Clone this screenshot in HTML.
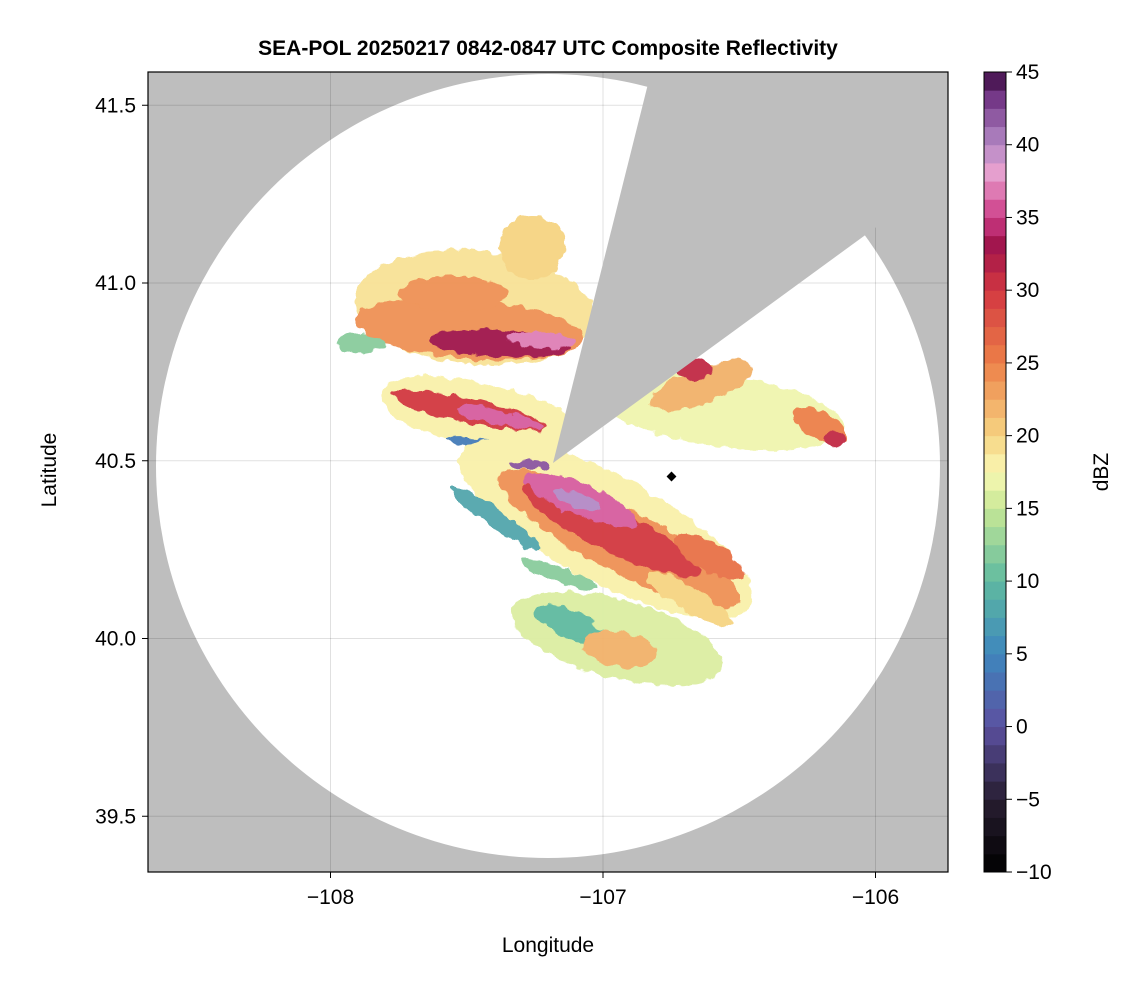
<!DOCTYPE html>
<html><head><meta charset="utf-8"><style>
body{margin:0;background:#fff;font-family:"Liberation Sans",sans-serif}
svg{display:block}
</style></head><body>
<svg id="chart" width="1146" height="990" viewBox="0 0 1146 990">
<defs>
<clipPath id="plotclip"><rect x="148" y="72" width="800" height="800"/></clipPath>
<filter id="rough" x="-20%" y="-20%" width="140%" height="140%">
<feTurbulence type="fractalNoise" baseFrequency="0.09" numOctaves="2" seed="3" result="n"/>
<feDisplacementMap in="SourceGraphic" in2="n" scale="10" xChannelSelector="R" yChannelSelector="G"/>
</filter>
</defs>
<text x="548" y="55" text-anchor="middle" font-size="21" font-weight="bold">SEA-POL 20250217 0842-0847 UTC Composite Reflectivity</text>
<g clip-path="url(#plotclip)">
<rect x="148" y="72" width="800" height="800" fill="#bebebe"/>
<circle cx="548" cy="466" r="392" fill="#fff"/>
<g id="grid"></g>
<g id="echoes" filter="url(#rough)" opacity="0.95"></g>
<polygon points="553,463 659,40 960,40 960,166" fill="#bebebe"/>
<rect x="668" y="473" width="7" height="7" transform="rotate(45 671.5 476.5)" fill="#000"/>
</g>
<rect x="148" y="72" width="800" height="800" fill="none" stroke="#000" stroke-width="1.2"/>
<g id="axes"></g>
<text x="548" y="952" text-anchor="middle" font-size="21">Longitude</text>
<text x="56" y="470" text-anchor="middle" font-size="21" transform="rotate(-90 56 470)">Latitude</text>
<g id="cbar"></g>
<text x="1108" y="472" text-anchor="middle" font-size="21" transform="rotate(-90 1108 472)">dBZ</text>
</svg>
<script>
const xTicks=[-108,-107,-106];
const yTicks=[39.5,40.0,40.5,41.0,41.5];
const cbTicks=[-10,-5,0,5,10,15,20,25,30,35,40,45];
// echo blobs: lon, lat, dBZ, semi-axes (deg lon / deg lat), orientation (deg)
const blobLon=[-107.47,-107.26,-107.49,-107.38,-107.23,-107.89,-107.45,-107.49,-107.38,-107.38,-106.99,-106.94,-106.97,-107.08,-107.10,-107.27,-107.40,-106.57,-106.64,-106.66,-106.205,-106.15,-106.95,-107.12,-106.94,-107.16,-106.68,-106.61,-107.55];
const blobLat=[40.93,41.10,40.87,40.83,40.84,40.83,40.63,40.64,40.62,40.54,40.31,40.28,40.305,40.39,40.39,40.49,40.34,40.64,40.71,40.755,40.60,40.56,40.0,40.04,39.97,40.18,40.11,40.23,40.97];
const blobDbz=[19,20,24,33,37,12,18,30,36,4,18,24,30,36,40,42,8,17,22,31,25,31,16,10,22,12,20,26,24];
const blobRx=[0.44,0.12,0.42,0.26,0.128,0.092,0.38,0.29,0.165,0.2,0.6,0.5,0.36,0.22,0.092,0.073,0.2,0.46,0.2,0.066,0.11,0.037,0.4,0.14,0.14,0.147,0.18,0.147,0.2];
const blobRy=[0.16,0.09,0.084,0.039,0.022,0.028,0.09,0.034,0.02,0.018,0.15,0.09,0.06,0.045,0.02,0.014,0.025,0.1,0.05,0.028,0.039,0.022,0.11,0.04,0.05,0.022,0.034,0.039,0.05];
const blobAng=[5,0,5,3,3,0,12,12,12,8,28,28,26,22,20,0,35,8,-20,0,30,0,15,25,10,20,30,30,0];

const NS='http://www.w3.org/2000/svg';
const X=lon=>603+(lon+107)*272.5;
const Y=lat=>283-(lat-41)*355.5;
const CB=v=>872-(v+10)*800/55;
const stops=[[-10,[0,0,0]],[-5,[40,30,50]],[0,[92,80,160]],[5,[62,135,190]],[10,[95,186,160]],[15,[200,232,150]],[17.5,[250,248,180]],[20,[246,212,130]],[25,[237,128,72]],[30,[210,55,65]],[33,[160,20,75]],[35,[205,60,135]],[38,[232,160,206]],[40,[180,138,198]],[43,[120,60,140]],[45,[60,10,65]]];
function col(v){
  for(let i=0;i<stops.length-1;i++){const a=stops[i],b=stops[i+1];
    if(v<=b[0]){const t=Math.max(0,(v-a[0])/(b[0]-a[0]));
      const c=a[1].map((x,k)=>Math.round(x+(b[1][k]-x)*t));return `rgb(${c})`;}}
  return 'rgb(60,10,65)';
}
function el(tag,attrs,parent){const e=document.createElementNS(NS,tag);for(const k in attrs)e.setAttribute(k,attrs[k]);parent.appendChild(e);return e;}
const grid=document.getElementById('grid'),axes=document.getElementById('axes'),ech=document.getElementById('echoes'),cb=document.getElementById('cbar');
xTicks.forEach(t=>{
  const l=el('line',{x1:X(t),x2:X(t),y1:72,y2:872,stroke:'#000','stroke-opacity':0.12,'stroke-width':1},grid);
  
  
  const k=el('line',{x1:X(t),x2:X(t),y1:872,y2:878,stroke:'#000'},axes);
  
  
  const s=el('text',{x:X(t),y:904,'text-anchor':'middle','font-size':21},axes);s.textContent='\u2212'+Math.abs(t);
  
  
});
yTicks.forEach(t=>{
  const l=el('line',{x1:148,x2:948,y1:Y(t),y2:Y(t),stroke:'#000','stroke-opacity':0.12,'stroke-width':1},grid);
  
  
  const k=el('line',{x1:142,x2:148,y1:Y(t),y2:Y(t),stroke:'#000'},axes);
  
  
  const s=el('text',{x:136,y:Y(t)+7,'text-anchor':'end','font-size':21},axes);s.textContent=t.toFixed(1);
  
  
});
blobLon.forEach((lon,i)=>{
  const cx=X(lon),cy=Y(blobLat[i]);
  const e=el('ellipse',{cx:cx,cy:cy,rx:blobRx[i]*272.5,ry:blobRy[i]*355.5,fill:col(blobDbz[i]),transform:`rotate(${blobAng[i]} ${cx} ${cy})`},ech);
  
  
});
for(let v=-10;v<45;v+=1.25){
  const r=el('rect',{x:984,y:CB(v+1.25),width:22,height:800/55*1.25+0.5,fill:col(v+0.6)},cb);
  
  
}
const fr=el('rect',{x:984,y:72,width:22,height:800,fill:'none',stroke:'#000','stroke-width':1},cb);


cbTicks.forEach(t=>{
  const k=el('line',{x1:1006,x2:1012,y1:CB(t),y2:CB(t),stroke:'#000'},cb);
  
  
  const s=el('text',{x:1016,y:CB(t)+7,'font-size':21},cb);s.textContent=t<0?'\u2212'+Math.abs(t):String(t);
  
  
});
</script>
</body></html>
